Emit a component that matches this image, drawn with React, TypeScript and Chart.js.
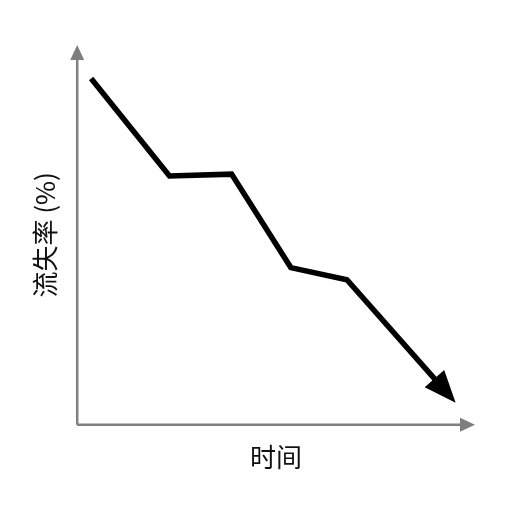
import { useEffect, useRef } from "react";
import { Chart, registerables } from "chart.js";

Chart.register(...registerables);

// data (x = time, y = rate %)
const timePoints = [3.5, 23.2, 38.8, 53.7, 67.8, 93.8];
const rateValues = [91.2, 65.5, 66.0, 41.4, 38.2, 7.4];
const xTitle = "时间";
const yTitle = "流失率 (%)";

const AXIS_COLOR = "#7f7f7f";
const LINE_COLOR = "#000000";

function triangle(ctx: CanvasRenderingContext2D, tipX: number, tipY: number, angle: number, len: number, half: number) {
  const bx = tipX - Math.cos(angle) * len;
  const by = tipY - Math.sin(angle) * len;
  const nx = -Math.sin(angle);
  const ny = Math.cos(angle);
  ctx.beginPath();
  ctx.moveTo(tipX, tipY);
  ctx.lineTo(bx + nx * half, by + ny * half);
  ctx.lineTo(bx - nx * half, by - ny * half);
  ctx.closePath();
  ctx.fill();
}

// draws axis lines with arrow heads, and the arrow at the end of the line
const arrowPlugin = {
  id: "arrows",
  beforeDatasetsDraw(chart: Chart) {
    const { ctx, chartArea } = chart;
    const { left, right, top, bottom } = chartArea;
    ctx.save();
    ctx.strokeStyle = AXIS_COLOR;
    ctx.fillStyle = AXIS_COLOR;
    ctx.lineWidth = 2.5;
    ctx.beginPath();
    ctx.moveTo(left, bottom);
    ctx.lineTo(left, top + 10);
    ctx.moveTo(left, bottom);
    ctx.lineTo(right - 10, bottom);
    ctx.stroke();
    triangle(ctx, left, top, -Math.PI / 2, 15, 7);
    triangle(ctx, right, bottom, 0, 15, 7);
    ctx.restore();
  },
  afterDatasetsDraw(chart: Chart) {
    const meta = chart.getDatasetMeta(0);
    const pts = meta.data;
    if (pts.length < 2) return;
    const a = pts[pts.length - 2];
    const b = pts[pts.length - 1];
    const angle = Math.atan2(b.y - a.y, b.x - a.x);
    const ctx = chart.ctx;
    ctx.save();
    ctx.fillStyle = LINE_COLOR;
    triangle(ctx, b.x + Math.cos(angle) * 8, b.y + Math.sin(angle) * 8, angle, 32, 13);
    ctx.restore();
  },
};

export default function App() {
  const canvasRef = useRef<HTMLCanvasElement>(null);
  const chartRef = useRef<Chart | null>(null);

  useEffect(() => {
    document.body.style.margin = "0";
    if (!canvasRef.current) return;
    if (chartRef.current) chartRef.current.destroy();

    chartRef.current = new Chart(canvasRef.current, {
      type: "line",
      data: {
        datasets: [
          {
            data: timePoints.map((x, i) => ({ x, y: rateValues[i] })),
            borderColor: LINE_COLOR,
            borderWidth: 5.5,
            borderJoinStyle: "miter",
            borderCapStyle: "butt",
            pointRadius: 0,
            tension: 0,
            fill: false,
          },
        ],
      },
      options: {
        responsive: false,
        animation: false,
        layout: { padding: { left: 30, right: 37, top: 45, bottom: 39 } },
        plugins: {
          legend: { display: false },
          tooltip: { enabled: false },
        },
        scales: {
          x: {
            type: "linear",
            min: 0,
            max: 100,
            grid: { display: false },
            border: { display: false },
            ticks: { display: false },
            title: {
              display: true,
              text: xTitle,
              color: "#111",
              font: { family: "'Noto Sans CJK SC', 'Noto Sans'", size: 26 },
              padding: { top: 9, bottom: 0 },
            },
          },
          y: {
            min: 0,
            max: 100,
            grid: { display: false },
            border: { display: false },
            ticks: { display: false },
            title: {
              display: true,
              text: yTitle,
              color: "#111",
              font: { family: "'Noto Sans CJK SC', 'Noto Sans'", size: 26 },
              padding: { top: 0, bottom: 8 },
            },
          },
        },
      },
      plugins: [arrowPlugin],
    });

    return () => {
      if (chartRef.current) {
        chartRef.current.destroy();
        chartRef.current = null;
      }
    };
  }, []);

  return (
    <div style={{ width: 512, height: 512, background: "#fff" }}>
      <canvas ref={canvasRef} width={512} height={512}></canvas>
    </div>
  );
}
